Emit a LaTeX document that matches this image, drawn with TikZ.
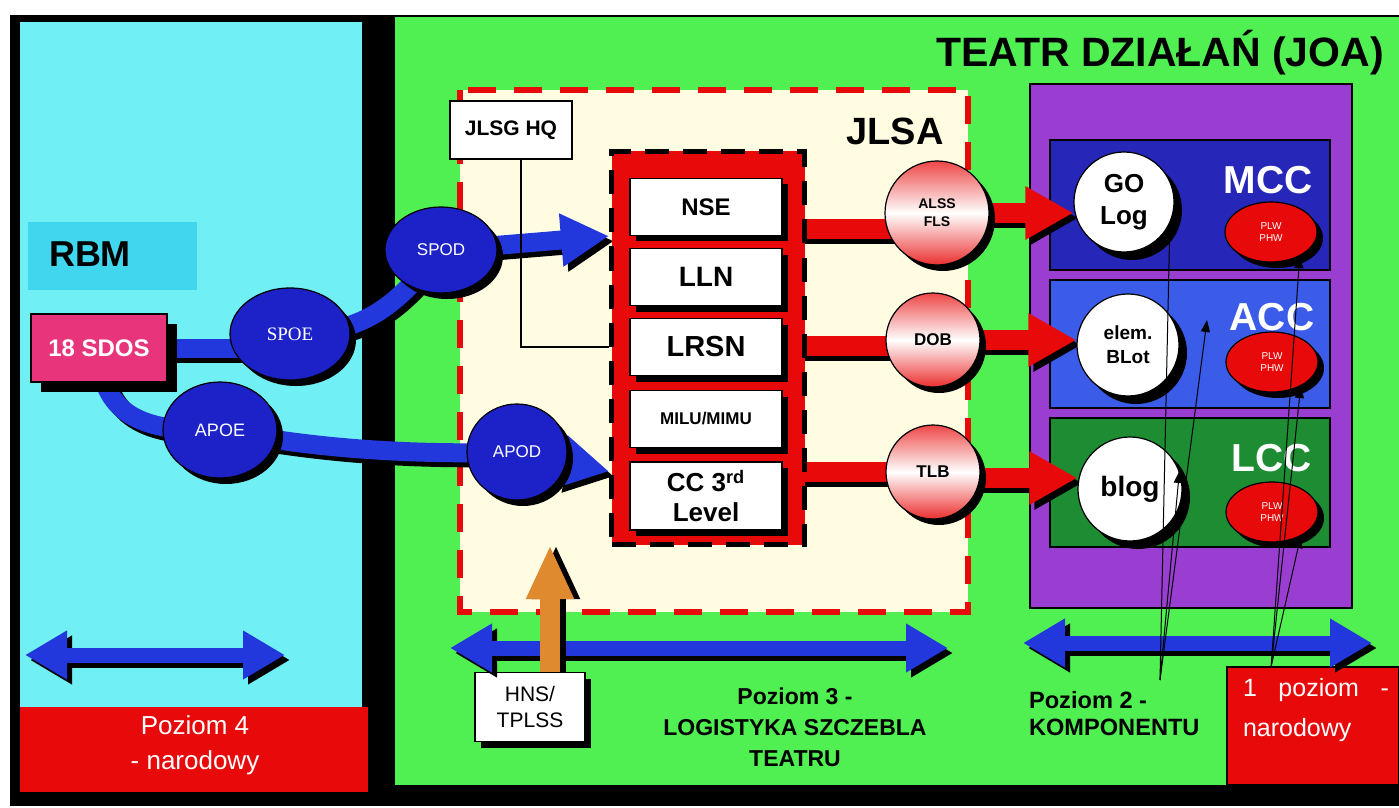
\documentclass[tikz,border=0pt]{standalone}
\usepackage{fontspec}
\setmainfont{Liberation Sans}
\newfontfamily\poeserif{Liberation Serif}
\usetikzlibrary{arrows.meta,shapes.geometric,shadows}
\pgfdeclarelayer{panels}
\pgfdeclarelayer{pipes}
\pgfsetlayers{panels,pipes,main}
\definecolor{skypanel}{HTML}{70F0F5}
\definecolor{grasspanel}{HTML}{50F052}
\definecolor{jlsacream}{HTML}{FFFCE2}
\definecolor{natred}{HTML}{E80A0A}
\definecolor{podblue}{HTML}{1C22C8}
\definecolor{pipeblue}{HTML}{2238DC}
\definecolor{sdospink}{HTML}{E8347A}
\definecolor{compurple}{HTML}{9A3ED2}
\definecolor{mccblue}{HTML}{2626B8}
\definecolor{accblue}{HTML}{3A5CE8}
\definecolor{lccgreen}{HTML}{1E8C32}
\definecolor{hnsorange}{HTML}{E08A30}
\definecolor{rbmcyan}{HTML}{40D6EE}
\newcommand{\fsz}[2]{\fontsize{#1}{#2}\selectfont}
\begin{document}
\begin{tikzpicture}[x=0.5pt,y=-0.5pt,
  castshadow/.style={drop shadow={shadow xshift=#1,shadow yshift=-#1,fill=black,opacity=1}},
  castshadow/.default=3pt,
  unitbox/.style={rectangle,fill=white,draw=black,line width=0.6pt,inner sep=1pt,
    minimum width=76pt,minimum height=28.5pt,align=center,castshadow},
  portnode/.style={ellipse,fill=podblue,draw=black,line width=0.6pt,inner sep=0pt,
    text=white,castshadow},
  ballnode/.style={circle,draw=black,line width=0.6pt,inner sep=0pt,align=center,
    shading=axis,top color=natred!75,bottom color=natred!85,middle color=white,
    minimum size=47pt,font=\bfseries\fsz{8.5}{10},castshadow},
  compnode/.style={circle,fill=white,draw=black,line width=0.6pt,inner sep=0pt,
    align=center,castshadow=4pt},
  plwnode/.style={ellipse,fill=natred,draw=black,line width=0.6pt,minimum width=46pt,
    minimum height=30pt,inner sep=0pt,align=center,text=white,font=\fsz{5}{6},castshadow},
  cclbl/.style={text=white,font=\bfseries\fsz{19.5}{20}},
  bluepipe/.style={draw=pipeblue,line width=9.5pt},
  redpipe/.style={draw=natred,line width=10pt},
  pipeshade/.style={draw=black,transform canvas={shift={(2.5pt,-2.5pt)}}},
  bighead/.style={-{Triangle[length=24pt,width=25pt]}},
  twinhead/.style={{Triangle[length=21pt,width=23pt]}-{Triangle[length=21pt,width=23pt]}},
  pin/.style={draw=black,line width=0.5pt,-{Triangle[length=6pt,width=4.5pt]}}
]
\useasboundingbox (0,0) rectangle (1399,808);
\begin{pgfonlayer}{panels}
% tla
\fill[black] (10,15) rectangle (1399,806);
\fill[skypanel] (20,22) rectangle (362,707);
\fill[natred] (20,707) rectangle (368,792);
\fill[grasspanel] (395,17) rectangle (1399,785);
\fill[rbmcyan] (28,222) rectangle (197,290);
% JLSA
\draw[natred,line width=3pt,dash pattern=on 14pt off 9pt,fill=jlsacream] (460,90) rectangle (968,612);
% komponenty
\draw[black,line width=0.8pt,fill=compurple] (1030,84) rectangle (1352,608);
\draw[black,line width=0.6pt,fill=mccblue] (1050,140) rectangle (1330,270);
\draw[black,line width=0.6pt,fill=accblue] (1050,280) rectangle (1330,408);
\draw[black,line width=0.6pt,fill=lccgreen] (1050,418) rectangle (1330,547);
\end{pgfonlayer}

\node[font=\bfseries\fsz{20.5}{22}] (title) at (1160,53) {TEATR DZIAŁAŃ (JOA)};
\node[font=\bfseries\fsz{19}{20}] (jlsa) at (895,131) {JLSA};
\node[font=\bfseries\fsz{18}{20}] (rbm) at (90,254) {RBM};

% porty
\node[rectangle,fill=sdospink,draw=black,line width=0.6pt,minimum width=68pt,minimum height=34pt,
  text=white,font=\bfseries\fsz{12}{14},castshadow=5pt] (sdos) at (99,348) {18 SDOS};
\node[portnode,minimum width=60pt,minimum height=46pt,font=\poeserif\fsz{9.5}{10}] (spoe) at (290,334) {SPOE};
\node[portnode,minimum width=56pt,minimum height=43pt,font=\fsz{8.5}{10}] (spod) at (441,250) {SPOD};
\node[portnode,minimum width=57pt,minimum height=48pt,font=\fsz{9}{10}] (apoe) at (220,430) {APOE};
\node[portnode,minimum width=50pt,minimum height=48pt,font=\fsz{8.5}{10}] (apod) at (517,452) {APOD};

% JLSA
\node[rectangle,fill=white,draw=black,line width=0.6pt,minimum width=61pt,minimum height=29pt,
  font=\bfseries\fsz{10.5}{12}] (jlsg) at (511,130) {JLSG HQ};
\node[rectangle,fill=natred,draw=black,line width=2.5pt,dash pattern=on 12pt off 7pt,
  minimum width=96.5pt,minimum height=196.5pt] (core) at (708,348) {};
\node[unitbox,font=\bfseries\fsz{12}{14}] (nse) at (706,207) {NSE};
\node[unitbox,font=\bfseries\fsz{14}{16}] (lln) at (706,277) {LLN};
\node[unitbox,font=\bfseries\fsz{14.5}{16}] (lrsn) at (706,347) {LRSN};
\node[unitbox,font=\bfseries\fsz{8.5}{10}] (milu) at (706,419) {MILU/MIMU};
\node[unitbox,minimum height=34pt,font=\bfseries\fsz{13}{15}] (cc) at (706,496) {CC 3\textsuperscript{rd}\\Level};

\node[ballnode,minimum size=52pt,font=\bfseries\fsz{7}{9}] (alss) at (937,213) {ALSS\\FLS};
\node[ballnode] (dob) at (933,340) {DOB};
\node[ballnode] (tlb) at (933,472) {TLB};

% komponenty
\node[compnode,minimum size=50pt,font=\bfseries\fsz{13}{16}] (golog) at (1124,202) {GO\\Log};
\node[compnode,minimum size=51pt,font=\bfseries\fsz{9.5}{12}] (elem) at (1128,345) {elem.\\BLot};
\node[compnode,minimum size=52pt,font=\bfseries\fsz{14}{16}] (blog) at (1130,489) {blog};
\node[cclbl] (mcc) at (1268,180) {MCC};
\node[cclbl] (acc) at (1272,317) {ACC};
\node[cclbl] (lcc) at (1272,458) {LCC};
\node[plwnode] (mccpl) at (1271,232) {PLW\\PHW};
\node[plwnode] (accpl) at (1272,362) {PLW\\PHW};
\node[plwnode] (lccpl) at (1272,512) {PLW\\PHW};

% poziomy
\node[text=white,align=center,font=\fsz{13}{17.5}] (p4) at (195,745) {Poziom 4\\- narodowy};
\node[align=center,font=\bfseries\fsz{11.5}{15.5}] (p3) at (795,727) {Poziom 3 -\\LOGISTYKA SZCZEBLA\\TEATRU};
\node[align=left,anchor=west,font=\bfseries\fsz{11.8}{13.5}] (p2) at (1022,714) {Poziom 2 -\\KOMPONENTU};
\node[rectangle,fill=natred,draw=black,line width=0.8pt,minimum width=86pt,minimum height=59pt] (nat1) at (1313,726) {};
\node[text=white,align=left,font=\fsz{12.5}{20}] (nat1txt) at (1316,710) {\makebox[73pt][s]{1 poziom -}\\narodowy};
\node[unitbox,minimum width=55pt,minimum height=34.5pt,font=\fsz{10.5}{13}] (hns) at (530,707) {HNS/\\TPLSS};

\begin{pgfonlayer}{pipes}
% niebieskie
\draw[bluepipe,pipeshade] (sdos.center) -- (sdos.center -| spoe.center);
\draw[bluepipe] (sdos.center) -- (sdos.center -| spoe.center);
\draw[bluepipe,pipeshade] (spoe.center) .. controls (370,334) and (400,300) .. (spod.center);
\draw[bluepipe] (spoe.center) .. controls (370,334) and (400,300) .. (spod.center);
\draw[bluepipe,pipeshade] (sdos.center) .. controls (100,420) and (150,432) .. (apoe.center);
\draw[bluepipe] (sdos.center) .. controls (100,420) and (150,432) .. (apoe.center);
\draw[bluepipe,pipeshade] (apoe.center) .. controls (320,450) and (420,455) .. (apod.center);
\draw[bluepipe] (apoe.center) .. controls (320,450) and (420,455) .. (apod.center);
\draw[bluepipe,pipeshade,bighead] (spod.center) -- (core.west |- nse.south);
\draw[bluepipe,bighead] (spod.center) -- (core.west |- nse.south);
\draw[bluepipe,pipeshade,bighead] (apod.center) -- ([yshift=-5pt]cc.north -| core.west);
\draw[bluepipe,bighead] (apod.center) -- ([yshift=-5pt]cc.north -| core.west);
% czerwone
\draw[redpipe,pipeshade] ([yshift=-8pt]alss.center -| core.center) -- ([yshift=-8pt]alss.center);
\draw[redpipe] ([yshift=-8pt]alss.center -| core.center) -- ([yshift=-8pt]alss.center);
\draw[redpipe,pipeshade] ([yshift=-3pt]dob.center -| core.center) -- ([yshift=-3pt]dob.center);
\draw[redpipe] ([yshift=-3pt]dob.center -| core.center) -- ([yshift=-3pt]dob.center);
\draw[redpipe,pipeshade] (tlb.center -| core.center) -- (tlb.center);
\draw[redpipe] (tlb.center -| core.center) -- (tlb.center);
\draw[redpipe,pipeshade,bighead] (alss.center) -- (alss.center -| golog.west);
\draw[redpipe,bighead] (alss.center) -- (alss.center -| golog.west);
\draw[redpipe,pipeshade,bighead] (dob.center) -- (dob.center -| elem.west);
\draw[redpipe,bighead] (dob.center) -- (dob.center -| elem.west);
\draw[redpipe,pipeshade,bighead] ([yshift=-3pt]tlb.center) -- ([yshift=-3pt]tlb.center -| blog.west);
\draw[redpipe,bighead] ([yshift=-3pt]tlb.center) -- ([yshift=-3pt]tlb.center -| blog.west);
\end{pgfonlayer}

% JLSG HQ - LRSN
\draw[line width=0.6pt] ([xshift=5pt]jlsg.south) |- (lrsn.west -| core.west);

% strzalki poziomow
\draw[bluepipe,line width=7.5pt,pipeshade,twinhead] (25,655) -- (285,655);
\draw[bluepipe,line width=7.5pt,twinhead] (25,655) -- (285,655);
\draw[bluepipe,line width=7.5pt,pipeshade,twinhead] (450,648) -- (948,648);
\draw[bluepipe,line width=7.5pt,twinhead] (450,648) -- (948,648);
\draw[bluepipe,line width=7.5pt,pipeshade,twinhead] (1023,643) -- (1372,643);
\draw[bluepipe,line width=7.5pt,twinhead] (1023,643) -- (1372,643);

% HNS
\coordinate (hnstip) at (550,545);
\draw[draw=black,line width=10pt,transform canvas={shift={(3pt,0pt)}},-{Triangle[length=27pt,width=22pt]}] ([xshift=10pt]hns.north) -- (hnstip);
\draw[draw=hnsorange,line width=10pt,-{Triangle[length=27pt,width=22pt]}] ([xshift=10pt]hns.north) -- (hnstip);

% linie od opisow
\coordinate (p2src) at (1160,680);
\coordinate (accpin) at (1207,320);
\draw[pin] (p2src) -- (golog.-25);
\draw[pin] (p2src) -- (accpin);
\draw[pin] (p2src) -- (blog.20);
\draw[pin] ([xshift=22.5pt]nat1.north west) -- (mccpl.-40);
\draw[pin] ([xshift=22.5pt]nat1.north west) -- (accpl.-40);
\draw[pin] ([xshift=22.5pt]nat1.north west) -- (lccpl.-40);
\end{tikzpicture}
\end{document}
